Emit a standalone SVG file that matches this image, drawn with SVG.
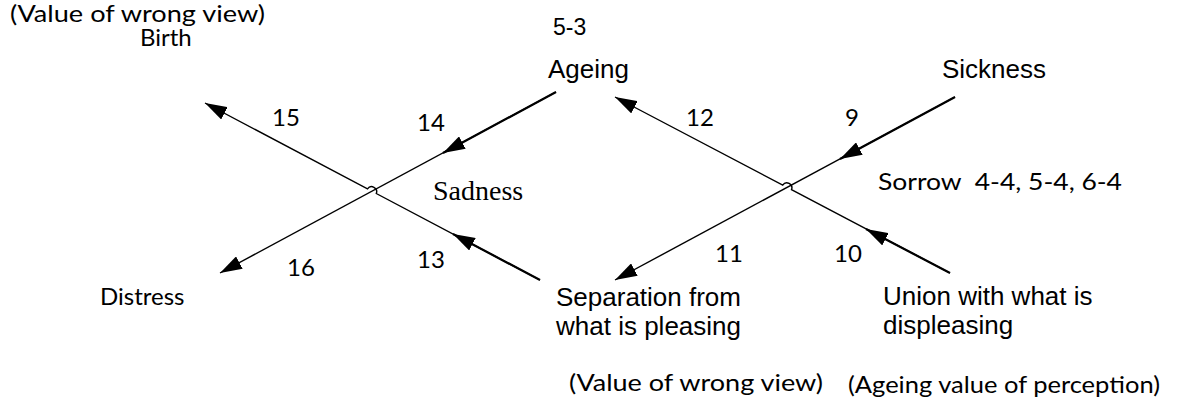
<svg xmlns="http://www.w3.org/2000/svg" width="1177" height="409" viewBox="0 0 1177 409">
  <style>
    .cal { font-family: Lato, "Open Sans", sans-serif; font-size: 24px; fill: #000; }
    .ari { font-family: "Liberation Sans", Arial, sans-serif; font-size: 26px; fill: #000; }
    .tim { font-family: "Liberation Serif", "Times New Roman", serif; font-size: 28px; fill: #000; }
    .ln { fill: none; stroke: #000; stroke-width: 1.4; }
    .lnb { fill: none; stroke: #000; stroke-width: 2.2; }
  </style>
  <defs>
    <marker id="ah" viewBox="0 0 22 14" refX="22" refY="7" markerWidth="22" markerHeight="14" markerUnits="userSpaceOnUse" orient="auto">
      <path d="M0,0 L22,7 L0,14 z" fill="#000"/>
    </marker>
  </defs>

  <rect width="1177" height="409" fill="#fff"/>

  <!-- connectors -->
  <g id="connectors">
    <!-- left cross: separation -> birth, hopping over the ageing -> distress line -->
    <path class="ln" d="M540,280 L376.3,193.5 A5,5 0 0 0 367.5,188.9 L205,103" marker-end="url(#ah)"/>
    <path class="ln" d="M556,92 L220,273" marker-end="url(#ah)"/>
    <path class="lnb" d="M556,92 L443,153" marker-end="url(#ah)"/>
    <path class="lnb" d="M540,280 L453,234" marker-end="url(#ah)"/>
    <!-- right cross: union -> ageing, hopping over the sickness -> separation line -->
    <path class="ln" d="M950,273 L791.5,189.7 A5,5 0 0 0 782.7,185.1 L615,97" marker-end="url(#ah)"/>
    <path class="ln" d="M955,97 L615,280" marker-end="url(#ah)"/>
    <path class="lnb" d="M955,97 L840,159" marker-end="url(#ah)"/>
    <path class="lnb" d="M950,273 L866,229" marker-end="url(#ah)"/>
  </g>

  <!-- edge numbers -->
  <g id="edge-labels" class="cal">
    <text x="272" y="126">15</text>
    <text x="417" y="131">14</text>
    <text x="686" y="126">12</text>
    <text x="845" y="126">9</text>
    <text x="287" y="276">16</text>
    <text x="417" y="268">13</text>
    <text x="715" y="262">11</text>
    <text x="834" y="262">10</text>
  </g>

  <g id="birth">
    <text class="cal" x="10" y="22" textLength="255" lengthAdjust="spacingAndGlyphs">(Value of wrong view)</text>
    <text class="cal" x="140" y="46">Birth</text>
  </g>

  <g id="ageing">
    <text class="ari" x="553" y="35" style="font-size:23px">5-3</text>
    <text class="ari" x="548" y="78">Ageing</text>
  </g>

  <g id="sickness">
    <text class="ari" x="942" y="78">Sickness</text>
  </g>

  <g id="sadness">
    <text class="tim" x="433" y="200">Sadness</text>
  </g>

  <g id="sorrow">
    <text class="cal" x="878" y="190" textLength="244" lengthAdjust="spacingAndGlyphs" xml:space="preserve">Sorrow  4-4, 5-4, 6-4</text>
  </g>

  <g id="distress">
    <text class="cal" x="100" y="305">Distress</text>
  </g>

  <g id="separation">
    <text class="ari" x="556" y="306">Separation from</text>
    <text class="ari" x="556" y="335">what is pleasing</text>
    <text class="cal" x="569" y="391" textLength="254" lengthAdjust="spacingAndGlyphs">(Value of wrong view)</text>
  </g>

  <g id="union">
    <text class="ari" x="883" y="305">Union with what is</text>
    <text class="ari" x="883" y="334">displeasing</text>
    <text class="cal" x="848" y="393" textLength="312" lengthAdjust="spacingAndGlyphs">(Ageing value of perception)</text>
  </g>
</svg>
